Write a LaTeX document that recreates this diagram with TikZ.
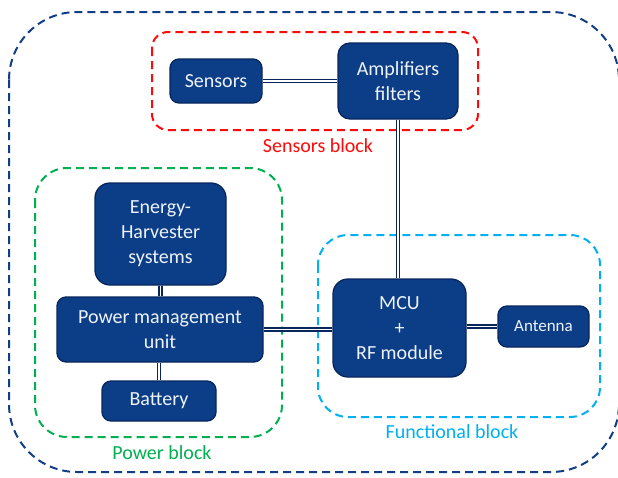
\documentclass[tikz,border=0pt]{standalone}
\usepackage{fontspec}
\setmainfont{Carlito}
\definecolor{nodefill}{RGB}{12,62,135}
\definecolor{nodeborder}{RGB}{8,38,92}
\definecolor{outerblue}{RGB}{18,62,132}
\definecolor{redblock}{RGB}{255,10,10}
\definecolor{greenblock}{RGB}{0,176,80}
\definecolor{lightblock}{RGB}{0,176,240}
\definecolor{nodetext}{RGB}{238,242,250}
\begin{document}
\begin{tikzpicture}[x=1pt,y=-1pt,
  blk/.style={draw=nodeborder, line width=1.3pt, fill=nodefill, rounded corners=9pt,
    text=nodetext, align=center, inner sep=0pt, font=\fontsize{20}{25}\selectfont},
  grp/.style={line width=2pt, dash pattern=on 8pt off 5pt},
  grplabel/.style={font=\fontsize{20}{24}\selectfont, inner sep=0pt},
  link/.style={draw=nodeborder, line width=1.2pt, double=white, double distance=1.8pt}
]
\useasboundingbox (0,0) rectangle (618,477);
% group frames
\draw[grp, draw=outerblue, rounded corners=68pt] (9,12) rectangle (619,472);
\draw[grp, draw=redblock, rounded corners=16pt] (152,32) rectangle (478,130);
\draw[grp, draw=greenblock, rounded corners=32pt] (35,168) rectangle (282,437);
\draw[grp, draw=lightblock, rounded corners=30pt] (318,235) rectangle (600,417);
% labels
\node[grplabel, text=redblock] (lsens) at (318,146) {Sensors block};
\node[grplabel, text=greenblock] (lpow) at (162,453) {Power block};
\node[grplabel, text=lightblock] (lfun) at (452,432) {Functional block};
% nodes
\node[blk, minimum width=92pt, minimum height=44pt] (sens) at (216,81) {Sensors};
\node[blk, minimum width=120pt, minimum height=76pt, rounded corners=12pt] (amp) at (398,81) {Amplifiers\\filters};
\node[blk, minimum width=131pt, minimum height=102pt, rounded corners=15pt] (eh) at (160.5,234) {Energy-\\Harvester\\systems};
\node[blk, minimum width=206pt, minimum height=65pt] (pmu) at (160,329.5) {Power management\\unit};
\node[blk, minimum width=114pt, minimum height=40pt] (bat) at (159,401) {Battery};
\node[blk, minimum width=133pt, minimum height=98pt, rounded corners=15pt] (mcu) at (399.5,328) {MCU\\+\\RF module};
\node[blk, minimum width=91pt, minimum height=41pt, font=\fontsize{17}{21}\selectfont] (ant) at (543.5,326.5) {Antenna};
% connectors
\draw[link] (sens.east) -- (sens.east -| amp.west);
\draw[link] (amp.south) -- (amp.south |- mcu.north);
\draw[link] (pmu.east) -- (pmu.east -| mcu.west);
\draw[link] (mcu.east |- ant.west) -- (ant.west);
\draw[link] (eh.south) -- (eh.south |- pmu.north);
\draw[link] (pmu.south -| bat.north) -- (bat.north);
\end{tikzpicture}
\end{document}
